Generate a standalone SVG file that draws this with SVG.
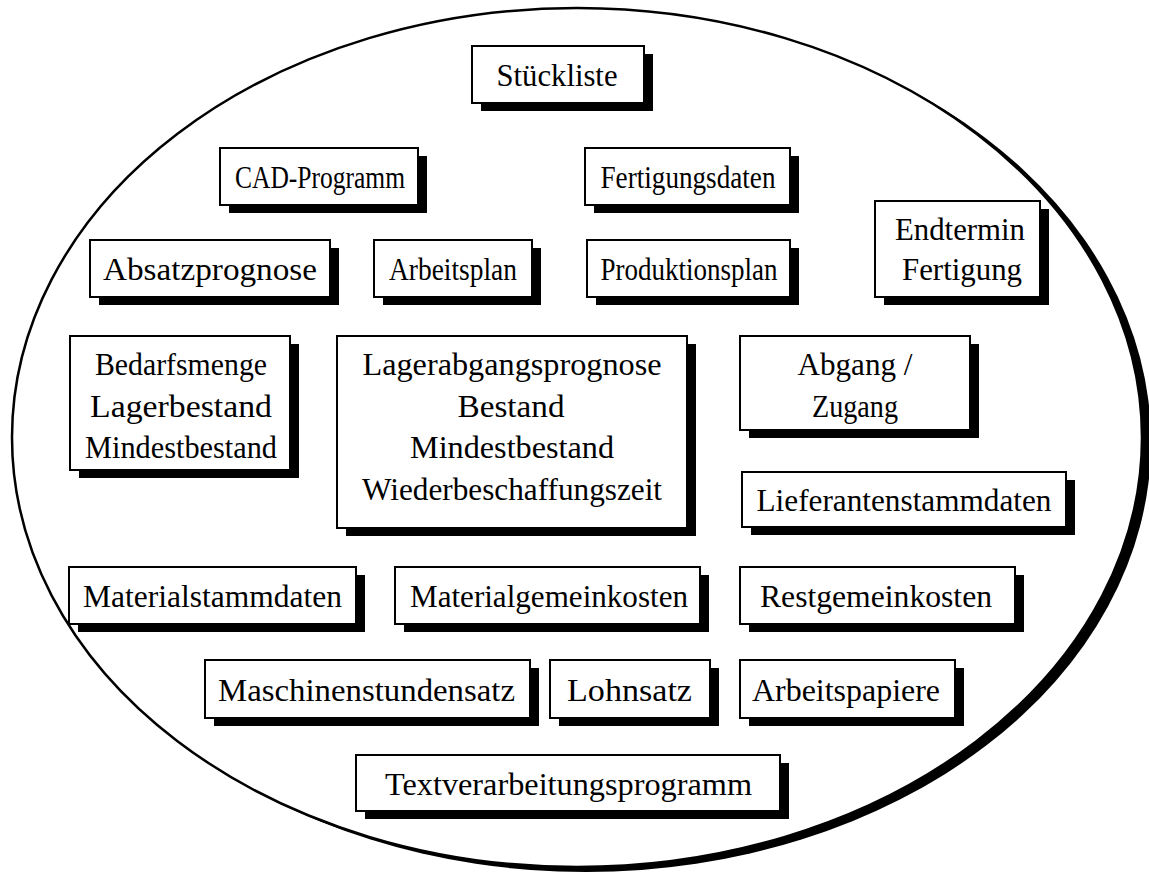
<svg xmlns="http://www.w3.org/2000/svg" width="1149" height="875" viewBox="0 0 1149 875">
  <defs>
    <style>
      .shadow { fill: #000; }
      .box { fill: #fff; stroke: #000; stroke-width: 2; }
      .label { font-family: "Liberation Serif", "Times New Roman", serif; font-size: 32px; fill: #000; text-anchor: middle; }
    </style>
  </defs>
  <rect width="1149" height="875" fill="#fff"/>

  <!-- outer ellipse with drop shadow -->
  <g id="frame">
    <ellipse cx="586" cy="442" rx="565" ry="430" fill="#000"/>
    <ellipse cx="577" cy="437.5" rx="565" ry="429.5" fill="#fff" stroke="#000" stroke-width="2.5"/>
  </g>

  <g id="connectors"></g>

  <g id="stueckliste">
    <rect class="shadow" x="481" y="54" width="172" height="57"/>
    <rect class="box" x="472" y="46" width="172" height="57"/>
    <text class="label" x="557" y="86" textLength="121" lengthAdjust="spacingAndGlyphs">Stückliste</text>
  </g>

  <g id="cad-programm">
    <rect class="shadow" x="229" y="156" width="198" height="57"/>
    <rect class="box" x="220" y="148" width="198" height="57"/>
    <text class="label" x="320" y="188" textLength="170" lengthAdjust="spacingAndGlyphs">CAD-Programm</text>
  </g>

  <g id="fertigungsdaten">
    <rect class="shadow" x="594" y="156" width="205" height="57"/>
    <rect class="box" x="585" y="148" width="205" height="57"/>
    <text class="label" x="688" y="188" textLength="175" lengthAdjust="spacingAndGlyphs">Fertigungsdaten</text>
  </g>

  <g id="endtermin">
    <rect class="shadow" x="884" y="209" width="165" height="96"/>
    <rect class="box" x="875" y="201" width="165" height="96"/>
    <text class="label" x="960" y="240" textLength="130" lengthAdjust="spacingAndGlyphs">Endtermin</text>
    <text class="label" x="962" y="280" textLength="120" lengthAdjust="spacingAndGlyphs">Fertigung</text>
  </g>

  <g id="absatzprognose">
    <rect class="shadow" x="99" y="248" width="240" height="57"/>
    <rect class="box" x="90" y="240" width="240" height="57"/>
    <text class="label" x="210" y="280" textLength="214" lengthAdjust="spacingAndGlyphs">Absatzprognose</text>
  </g>

  <g id="arbeitsplan">
    <rect class="shadow" x="383" y="248" width="158" height="57"/>
    <rect class="box" x="374" y="240" width="158" height="57"/>
    <text class="label" x="453" y="280" textLength="128" lengthAdjust="spacingAndGlyphs">Arbeitsplan</text>
  </g>

  <g id="produktionsplan">
    <rect class="shadow" x="596" y="248" width="203" height="57"/>
    <rect class="box" x="587" y="240" width="203" height="57"/>
    <text class="label" x="689" y="280" textLength="177" lengthAdjust="spacingAndGlyphs">Produktionsplan</text>
  </g>

  <g id="bedarfsmenge">
    <rect class="shadow" x="79" y="344" width="220" height="134"/>
    <rect class="box" x="70" y="336" width="220" height="134"/>
    <text class="label" x="181" y="375" textLength="172" lengthAdjust="spacingAndGlyphs">Bedarfsmenge</text>
    <text class="label" x="181" y="417" textLength="182" lengthAdjust="spacingAndGlyphs">Lagerbestand</text>
    <text class="label" x="181" y="458" textLength="192" lengthAdjust="spacingAndGlyphs">Mindestbestand</text>
  </g>

  <g id="lagerabgang">
    <rect class="shadow" x="346" y="344" width="350" height="192"/>
    <rect class="box" x="337" y="336" width="350" height="192"/>
    <text class="label" x="512" y="375" textLength="299" lengthAdjust="spacingAndGlyphs">Lagerabgangsprognose</text>
    <text class="label" x="511" y="417" textLength="107" lengthAdjust="spacingAndGlyphs">Bestand</text>
    <text class="label" x="512" y="458" textLength="204" lengthAdjust="spacingAndGlyphs">Mindestbestand</text>
    <text class="label" x="512" y="500" textLength="300" lengthAdjust="spacingAndGlyphs">Wiederbeschaffungszeit</text>
  </g>

  <g id="abgang-zugang">
    <rect class="shadow" x="749" y="344" width="230" height="94"/>
    <rect class="box" x="740" y="336" width="230" height="94"/>
    <text class="label" x="855" y="375" textLength="115" lengthAdjust="spacingAndGlyphs">Abgang /</text>
    <text class="label" x="855" y="417" textLength="86" lengthAdjust="spacingAndGlyphs">Zugang</text>
  </g>

  <g id="lieferantenstammdaten">
    <rect class="shadow" x="751" y="480" width="324" height="55"/>
    <rect class="box" x="742" y="472" width="324" height="55"/>
    <text class="label" x="904" y="511" textLength="295" lengthAdjust="spacingAndGlyphs">Lieferantenstammdaten</text>
  </g>

  <g id="materialstammdaten">
    <rect class="shadow" x="78" y="575" width="287" height="57"/>
    <rect class="box" x="69" y="567" width="287" height="57"/>
    <text class="label" x="212.5" y="607" textLength="259" lengthAdjust="spacingAndGlyphs">Materialstammdaten</text>
  </g>

  <g id="materialgemeinkosten">
    <rect class="shadow" x="404" y="575" width="305" height="57"/>
    <rect class="box" x="395" y="567" width="305" height="57"/>
    <text class="label" x="549" y="607" textLength="278" lengthAdjust="spacingAndGlyphs">Materialgemeinkosten</text>
  </g>

  <g id="restgemeinkosten">
    <rect class="shadow" x="749" y="575" width="275" height="57"/>
    <rect class="box" x="740" y="567" width="275" height="57"/>
    <text class="label" x="876" y="607" textLength="232" lengthAdjust="spacingAndGlyphs">Restgemeinkosten</text>
  </g>

  <g id="maschinenstundensatz">
    <rect class="shadow" x="214" y="668" width="325" height="58"/>
    <rect class="box" x="205" y="660" width="325" height="58"/>
    <text class="label" x="366.5" y="701" textLength="297" lengthAdjust="spacingAndGlyphs">Maschinenstundensatz</text>
  </g>

  <g id="lohnsatz">
    <rect class="shadow" x="559" y="668" width="160" height="58"/>
    <rect class="box" x="550" y="660" width="160" height="58"/>
    <text class="label" x="629.5" y="701" textLength="125" lengthAdjust="spacingAndGlyphs">Lohnsatz</text>
  </g>

  <g id="arbeitspapiere">
    <rect class="shadow" x="749" y="668" width="215" height="58"/>
    <rect class="box" x="740" y="660" width="215" height="58"/>
    <text class="label" x="846" y="701" textLength="188" lengthAdjust="spacingAndGlyphs">Arbeitspapiere</text>
  </g>

  <g id="textverarbeitung">
    <rect class="shadow" x="365" y="763" width="424" height="56"/>
    <rect class="box" x="356" y="755" width="424" height="56"/>
    <text class="label" x="568.5" y="795" textLength="367" lengthAdjust="spacingAndGlyphs">Textverarbeitungsprogramm</text>
  </g>
</svg>
